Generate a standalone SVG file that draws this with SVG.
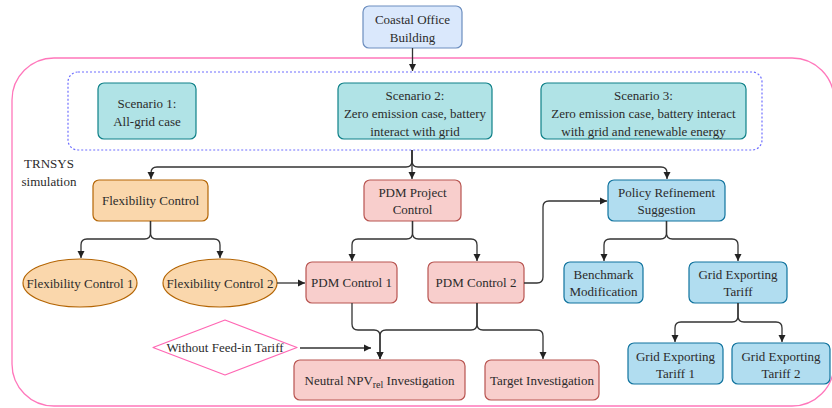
<svg xmlns="http://www.w3.org/2000/svg" width="832" height="408" viewBox="0 0 832 408" font-family="'Liberation Serif', 'DejaVu Serif', serif">
<defs>
<marker id="ah" markerWidth="8" markerHeight="8" refX="7" refY="4" orient="auto" markerUnits="userSpaceOnUse">
<path d="M0,0.5 L7,4 L0,7.5 Z" fill="#222"/>
</marker>
</defs>
<style>
text{font-family:'Liberation Serif','DejaVu Serif',serif;font-size:13px;fill:#2b2b2b;text-anchor:middle;dominant-baseline:central}
.blue{fill:#dae8fc;stroke:#6c8ebf;stroke-width:1.2}
.teal{fill:#b0e3e6;stroke:#0e8088;stroke-width:1.2}
.orange{fill:#fad7ac;stroke:#b46504;stroke-width:1.2}
.red{fill:#f8cecc;stroke:#b85450;stroke-width:1.2}
.sky{fill:#b1ddf0;stroke:#10739e;stroke-width:1.2}
.conn path{fill:none;stroke:#333;stroke-width:1.3;marker-end:url(#ah)}
</style>
<rect width="832" height="408" fill="#fff"/>
<rect id="frame" x="12" y="58" width="822" height="348" rx="42" fill="none" stroke="#ff77bb" stroke-width="1.3"/>
<rect id="scenarios" x="68" y="72" width="694" height="78" rx="10" fill="none" stroke="#6f6fff" stroke-width="1.2" stroke-dasharray="2 2"/>
<g id="trnsys"><text x="49" y="163">TRNSYS</text><text x="49" y="181">simulation</text></g>

<g id="coastal"><rect class="blue" x="363" y="6" width="99" height="42" rx="6"/><text x="412.5" y="19">Coastal Office</text><text x="412.5" y="37">Building</text></g>
<g id="s1"><rect class="teal" x="98" y="83" width="98" height="56" rx="6"/><text x="147" y="103">Scenario 1:</text><text x="147" y="121">All-grid case</text></g>
<g id="s2"><rect class="teal" x="338" y="83" width="154" height="56" rx="6"/><text x="415" y="95">Scenario 2:</text><text x="415" y="113">Zero emission case, battery</text><text x="415" y="131">interact with grid</text></g>
<g id="s3"><rect class="teal" x="541" y="83" width="205" height="56" rx="6"/><text x="643.5" y="95">Scenario 3:</text><text x="643.5" y="113">Zero emission case, battery interact</text><text x="643.5" y="131">with grid and renewable energy</text></g>

<g id="flex"><rect class="orange" x="93" y="180" width="115" height="41" rx="6"/><text x="150.5" y="200.5">Flexibility Control</text></g>
<g id="pdmproj"><rect class="red" x="364" y="180" width="97" height="41" rx="6"/><text x="412.5" y="192">PDM Project</text><text x="412.5" y="209">Control</text></g>
<g id="policy"><rect class="sky" x="608" y="180" width="117" height="41" rx="6"/><text x="666.5" y="192">Policy Refinement</text><text x="666.5" y="209">Suggestion</text></g>

<g id="flex1"><ellipse class="orange" cx="80" cy="283" rx="57" ry="24"/><text x="80" y="283">Flexibility Control 1</text></g>
<g id="flex2"><ellipse class="orange" cx="220" cy="283" rx="57" ry="24"/><text x="220" y="283">Flexibility Control 2</text></g>
<g id="pdm1"><rect class="red" x="306" y="262" width="91" height="41" rx="6"/><text x="351.5" y="282.5">PDM Control 1</text></g>
<g id="pdm2"><rect class="red" x="428" y="262" width="96" height="41" rx="6"/><text x="476" y="282.5">PDM Control 2</text></g>
<g id="bench"><rect class="sky" x="564" y="262" width="79" height="41" rx="6"/><text x="603.5" y="274.5">Benchmark</text><text x="603.5" y="291.5">Modification</text></g>
<g id="get"><rect class="sky" x="689" y="262" width="98" height="41" rx="6"/><text x="738" y="274.5">Grid Exporting</text><text x="738" y="291.5">Tariff</text></g>
<g id="get1"><rect class="sky" x="628" y="343" width="95" height="41" rx="6"/><text x="675.5" y="356">Grid Exporting</text><text x="675.5" y="373">Tariff 1</text></g>
<g id="get2"><rect class="sky" x="732" y="343" width="98" height="41" rx="6"/><text x="781" y="356">Grid Exporting</text><text x="781" y="373">Tariff 2</text></g>
<g id="nofit"><path d="M225,320 L297,347.5 L225,375 L153,347.5 Z" fill="#fff" stroke="#ff66b3" stroke-width="1.2" stroke-linejoin="round"/><text x="225" y="347.5">Without Feed-in Tariff</text></g>
<g id="neutral"><rect class="red" x="294" y="360" width="171" height="40" rx="6"/><text x="379.5" y="380">Neutral NPV<tspan dy="4" font-size="10">rel</tspan><tspan dy="-4"> Investigation</tspan></text></g>
<g id="target"><rect class="red" x="485" y="360" width="114" height="40" rx="6"/><text x="542" y="380">Target Investigation</text></g>

<g class="conn" id="connectors">
<path d="M412.5,48 V71"/>
<path d="M412,150 V161 Q412,167 406,167 H157 Q151,167 151,173 V179"/>
<path d="M412,150 V179"/>
<path d="M412,150 V161 Q412,167 418,167 H661 Q667,167 667,173 V179"/>
<path d="M150.5,221 V233 Q150.5,239 144.5,239 H87 Q81,239 81,245 V258"/>
<path d="M150.5,221 V233 Q150.5,239 156.5,239 H214 Q220,239 220,245 V258"/>
<path d="M412.5,221 V233 Q412.5,239 406.5,239 H358 Q352,239 352,245 V261"/>
<path d="M412.5,221 V233 Q412.5,239 418.5,239 H471 Q477,239 477,245 V261"/>
<path d="M666.5,221 V233 Q666.5,239 660.5,239 H610 Q604,239 604,245 V261"/>
<path d="M666.5,221 V233 Q666.5,239 672.5,239 H732 Q738,239 738,245 V261"/>
<path d="M738,303 V316 Q738,322 732,322 H681 Q675,322 675,328 V342"/>
<path d="M738,303 V316 Q738,322 744,322 H776 Q782,322 782,328 V342"/>
<path d="M277,283 H305"/>
<path d="M524,283 H537 Q543,283 543,277 V207 Q543,201 549,201 H607"/>
<path d="M352,303 V324 Q352,330 358,330 H374 Q380,330 380,336 V359"/>
<path d="M477,303 V324 Q477,330 471,330 H386 Q380,330 380,336 V359"/>
<path d="M477,303 V324 Q477,330 483,330 H537 Q543,330 543,336 V359"/>
<path d="M300,348 H371"/>
</g>
</svg>
